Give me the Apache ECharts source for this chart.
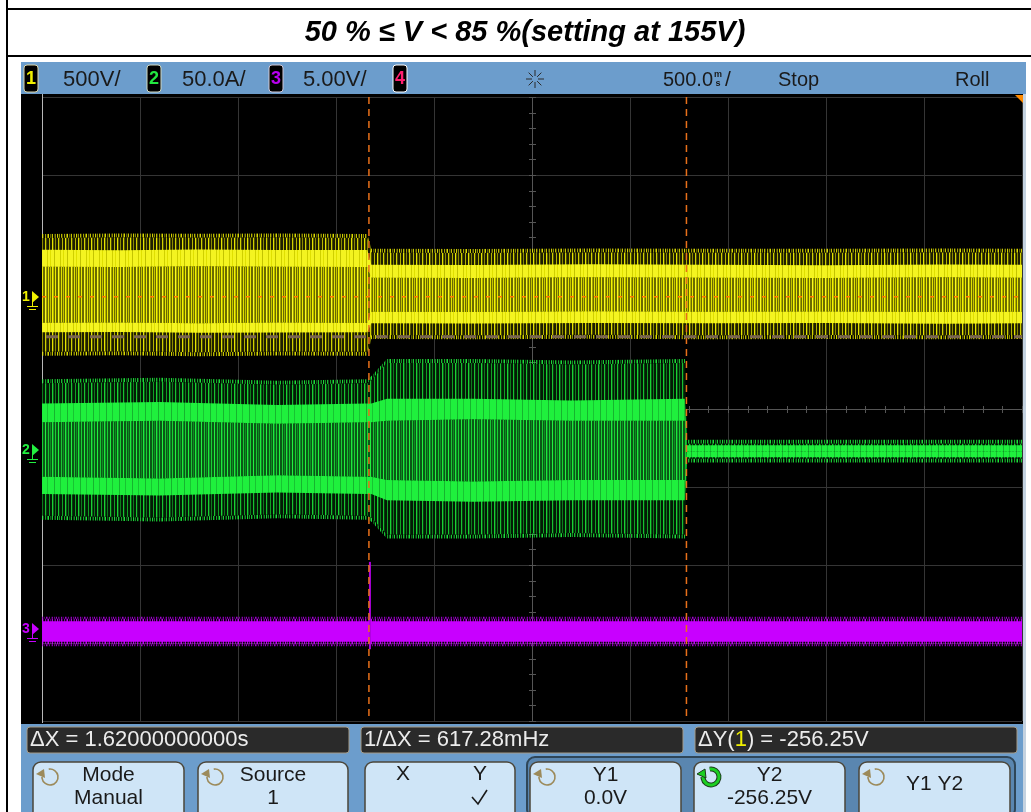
<!DOCTYPE html>
<html>
<head>
<meta charset="utf-8">
<title>Scope capture</title>
<script src="https://cdn.jsdelivr.net/npm/echarts@6/dist/echarts.min.js"></script>
<style>
  html, body { margin: 0; padding: 0; background: #fff; }
  #scope { width: 1031px; height: 812px; }
</style>
</head>
<body>
<div id="scope"></div>
<script>
// ---------------- Acquisition data ----------------
// Roll mode, 500 ms/div across 10 divisions
const timeRange = [0, 5];
const timeStep = 0.5;
const divRange = [-4, 4];

// Channel settings: units per division and ground reference (divisions from centre)
const ch1Scale = 500, ch1Ground = 1.44;   // volts
const ch2Scale = 50,  ch2Ground = -0.53;  // amps
const ch3Scale = 5,   ch3Ground = -2.82;  // volts

// Channel 1 (V): envelope of the mains voltage
const ch1Time    = [0.00, 0.40, 0.80, 1.20, 1.66, 1.68, 2.20, 2.80, 3.40, 4.00, 4.60, 5.00];
const ch1PeakHi  = [376, 380, 377, 379, 376, 282, 280, 284, 282, 281, 283, 281];
const ch1HiTop   = [301, 298, 303, 300, 299, 205, 203, 208, 205, 202, 206, 204];
const ch1HiBot   = [192, 190, 195, 192, 190, 122, 120, 125, 122, 120, 124, 122];
const ch1LoTop   = [-167, -165, -170, -166, -168, -96, -98, -94, -97, -95, -99, -96];
const ch1LoBot   = [-228, -226, -232, -229, -228, -170, -172, -168, -171, -169, -173, -170];
const ch1PeakLo  = [-353, -350, -356, -352, -353, -246, -248, -244, -247, -245, -248, -246];

// Channel 2 (A): current envelope, drops out at the second time cursor
const ch2Time    = [0.00, 0.60, 1.20, 1.66, 1.68, 1.76, 2.20, 2.70, 3.28, 3.29, 4.00, 5.00];
const ch2PeakHi  = [43, 44, 42, 43, 45, 56, 56, 55, 56, 4.2, 4.2, 4.2];
const ch2HiTop   = [30, 31, 29, 30, 30, 33, 33, 32, 33, 3.2, 3.2, 3.2];
const ch2HiBot   = [18, 19, 17, 18, 18, 19, 20, 19, 19, -0.6, -0.6, -0.6];
const ch2LoTop   = [-17, -18, -16, -17, -17, -19, -20, -19, -19, -0.6, -0.6, -0.6];
const ch2LoBot   = [-28, -29, -27, -28, -28, -32, -33, -32, -32, -4.5, -4.5, -4.5];
const ch2PeakLo  = [-42, -43, -41, -42, -43, -54, -54, -53, -54, -5.2, -5.2, -5.2];

// Channel 3 (V): control signal, flat with a single spike at the switching instant
const ch3Time    = [0.00, 5.00];
const ch3PeakHi  = [0.66, 0.66];
const ch3BandTop = [0.50, 0.50];
const ch3BandBot = [-0.82, -0.82];
const ch3PeakLo  = [-0.98, -0.98];
const ch3Spike   = [1.668, 4.30, -1.30];   // time, high, low

// Cursors: X in seconds, Y on channel 1 in volts
const cursorX = [1.668, 3.288];
const cursorY = [0, -256.25];

// Front panel settings text
const channelLabels = ['500V/', '50.0A/', '5.00V/'];
const timebaseLabel = '500.0';
const runState = 'Stop';
const modeLabel = 'Roll';

// ---------------- Rendering helpers ----------------
const SCOPE_FONT = '"Liberation Sans", Arial, sans-serif';

function stripes(width, bg, marks) {
  const c = document.createElement('canvas');
  c.width = width; c.height = 4;
  const g = c.getContext('2d');
  if (bg) { g.fillStyle = bg; g.fillRect(0, 0, width, 4); }
  marks.forEach(([x, w, col]) => { g.fillStyle = col; g.fillRect(x, 0, w, 4); });
  return { image: c, repeat: 'repeat' };
}
function fringe(rgb, alphas) {
  return stripes(alphas.length, null, alphas.map((a, i) => [i, 1, `rgba(${rgb},${a})`]));
}
const FRINGE_ALPHA = [0.9, 0.15, 0.6, 0, 0.8, 0.3, 0, 0.7, 0.1, 0.5, 0.95, 0, 0.4, 0.2, 0.85, 0, 0.3, 0.6, 0];

const yellowStyle = {
  outer: stripes(13, '#1e1e00', [[0, 1, '#e4e400'], [1, 1, '#5a5a00'], [3, 1, '#8a8a00'], [6, 1, '#d0d000'], [7, 1, '#505000'], [10, 1, '#b4b400']]),
  mid: stripes(13, '#6a6a00', [[0, 1, '#f4f400'], [1, 1, '#b0b000'], [3, 1, '#ecec00'], [6, 1, '#fcfc20'], [7, 1, '#a4a400'], [9, 1, '#e4e400'], [11, 1, '#c4c400']]),
  bright: stripes(13, '#f4f420', [[2, 1, '#c4c400'], [8, 1, '#d0d000'], [11, 1, '#e0e000']]),
  fringe: fringe('230,230,0', FRINGE_ALPHA)
};
const greenStyle = {
  outer: stripes(13, '#031a06', [[0, 1, '#1ad034'], [1, 1, '#0a5a16'], [3, 1, '#0c7a1c'], [6, 1, '#18c030'], [7, 1, '#063c0e'], [10, 1, '#10a024']]),
  mid: stripes(13, '#0a5816', [[0, 1, '#1ee83a'], [1, 1, '#10882a'], [3, 1, '#18d034'], [6, 1, '#22f040'], [9, 1, '#18c832'], [11, 1, '#0f8a24']]),
  bright: stripes(13, '#1ff03d', [[2, 1, '#16b42e'], [8, 1, '#18c432']]),
  fringe: fringe('30,235,60', FRINGE_ALPHA)
};
const magentaStyle = {
  outer: fringe('200,0,255', FRINGE_ALPHA),
  mid: { color: '#c800ff' },
  bright: { color: '#c800ff' },
  fringe: fringe('170,0,220', FRINGE_ALPHA.slice().reverse())
};

function envelopeSeries(name, env, scale, ground, look, fringeSize) {
  return {
    type: 'custom',
    name,
    coordinateSystem: 'cartesian2d',
    clip: true,
    silent: true,
    z: 3,
    data: [[env.t[0], ground]],
    renderItem(params, api) {
      const pt = (t, v) => api.coord([t, ground + v / scale]);
      const band = (hi, lo, dyHi = 0, dyLo = 0) => {
        const pts = env.t.map((t, i) => { const p = pt(t, hi[i]); return [p[0], p[1] + dyHi]; });
        for (let i = env.t.length - 1; i >= 0; i--) {
          const p = pt(env.t[i], lo[i]);
          pts.push([p[0], p[1] + dyLo]);
        }
        return pts;
      };
      const fillOf = s => (s.image ? s : s.color);
      const poly = (points, s) => ({ type: 'polygon', shape: { points }, style: { fill: fillOf(s) } });
      return {
        type: 'group',
        children: [
          poly(band(env.peakHi, env.peakHi, -fringeSize, 0), look.fringe),
          poly(band(env.peakLo, env.peakLo, 0, fringeSize), look.fringe),
          poly(band(env.peakHi, env.peakLo), look.outer),
          poly(band(env.hiBot, env.loTop), look.mid),
          poly(band(env.hiTop, env.hiBot), look.bright),
          poly(band(env.loTop, env.loBot), look.bright)
        ]
      };
    }
  };
}

// ---------------- Chart ----------------
const chart = echarts.init(document.getElementById('scope'), null, { renderer: 'canvas', width: 1031, height: 812 });

const GRID_COLOR = '#353535';

const option = {
  backgroundColor: '#ffffff',
  animation: false,
  grid: { left: 42, top: 97, width: 980, height: 624, show: false },
  xAxis: {
    type: 'value', min: timeRange[0], max: timeRange[1], interval: timeStep,
    axisLine: { show: false }, axisTick: { show: false }, axisLabel: { show: false },
    splitLine: { show: true, lineStyle: { color: GRID_COLOR, width: 1 } }
  },
  yAxis: {
    type: 'value', min: divRange[0], max: divRange[1], interval: 1,
    axisLine: { show: false }, axisTick: { show: false }, axisLabel: { show: false },
    splitLine: { show: true, lineStyle: { color: GRID_COLOR, width: 1 } }
  },
  series: [
    // Centre graticule with minor ticks and the screen's left edge
    {
      type: 'custom', name: 'graticule', coordinateSystem: 'cartesian2d', silent: true, z: 1,
      data: [[0, 0]],
      renderItem(params, api) {
        const children = [];
        const stroke = { stroke: '#555555', lineWidth: 1 };
        const l = api.coord([timeRange[0], 0]), r = api.coord([timeRange[1], 0]);
        const midT = (timeRange[0] + timeRange[1]) / 2;
        const t = api.coord([midT, divRange[1]]), b = api.coord([midT, divRange[0]]);
        children.push({ type: 'line', shape: { x1: l[0], y1: l[1] + 0.5, x2: r[0], y2: r[1] + 0.5 }, style: stroke });
        children.push({ type: 'line', shape: { x1: t[0] + 0.5, y1: t[1], x2: b[0] + 0.5, y2: b[1] }, style: stroke });
        for (let s = timeRange[0]; s <= timeRange[1] + 1e-9; s += timeStep / 5) {
          const p = api.coord([s, 0]);
          children.push({ type: 'line', shape: { x1: Math.round(p[0]) + 0.5, y1: p[1] - 3, x2: Math.round(p[0]) + 0.5, y2: p[1] + 4 }, style: stroke });
        }
        for (let d = divRange[0]; d <= divRange[1] + 1e-9; d += 0.2) {
          const p = api.coord([midT, d]);
          children.push({ type: 'line', shape: { x1: p[0] - 3, y1: Math.round(p[1]) + 0.5, x2: p[0] + 4, y2: Math.round(p[1]) + 0.5 }, style: stroke });
        }
        const e0 = api.coord([timeRange[0], divRange[1]]), e1 = api.coord([timeRange[0], divRange[0]]);
        children.push({ type: 'line', shape: { x1: e0[0] + 0.5, y1: e0[1] - 3, x2: e1[0] + 0.5, y2: e1[1] + 2 }, style: { stroke: '#b8b8b8', lineWidth: 1 } });
        return { type: 'group', children };
      }
    },
    envelopeSeries('ch3', { t: ch3Time, peakHi: ch3PeakHi, hiTop: ch3BandTop, hiBot: ch3BandTop, loTop: ch3BandBot, loBot: ch3BandBot, peakLo: ch3PeakLo }, ch3Scale, ch3Ground, magentaStyle, 2),
    {
      type: 'custom', name: 'ch3 spike', coordinateSystem: 'cartesian2d', silent: true, z: 4,
      data: [ch3Spike],
      renderItem(params, api) {
        const hi = api.coord([api.value(0), ch3Ground + api.value(1) / ch3Scale]);
        const lo = api.coord([api.value(0), ch3Ground + api.value(2) / ch3Scale]);
        return { type: 'line', shape: { x1: hi[0] + 1, y1: hi[1], x2: lo[0] + 1, y2: lo[1] }, style: { stroke: '#b000e0', lineWidth: 2 } };
      }
    },
    envelopeSeries('ch2', { t: ch2Time, peakHi: ch2PeakHi, hiTop: ch2HiTop, hiBot: ch2HiBot, loTop: ch2LoTop, loBot: ch2LoBot, peakLo: ch2PeakLo }, ch2Scale, ch2Ground, greenStyle, 4),
    envelopeSeries('ch1', { t: ch1Time, peakHi: ch1PeakHi, hiTop: ch1HiTop, hiBot: ch1HiBot, loTop: ch1LoTop, loBot: ch1LoBot, peakLo: ch1PeakLo }, ch1Scale, ch1Ground, yellowStyle, 4),
    // Cursors
    {
      type: 'custom', name: 'cursors', coordinateSystem: 'cartesian2d', silent: true, z: 6,
      data: [[0, 0]],
      renderItem(params, api) {
        const children = [];
        cursorX.forEach(x => {
          const a = api.coord([x, divRange[1]]), b = api.coord([x, divRange[0]]);
          children.push({ type: 'line', shape: { x1: a[0], y1: a[1], x2: b[0], y2: b[1] }, style: { stroke: '#e8701a', lineWidth: 1.5, lineDash: [7, 5] } });
        });
        const y1 = api.coord([timeRange[0], ch1Ground + cursorY[0] / ch1Scale]);
        const y1r = api.coord([timeRange[1], ch1Ground + cursorY[0] / ch1Scale]);
        children.push({ type: 'line', shape: { x1: y1[0], y1: y1[1], x2: y1r[0], y2: y1r[1] }, style: { stroke: '#ff7a00', lineWidth: 1.5, lineDash: [4, 8] } });
        const y2 = api.coord([timeRange[0], ch1Ground + cursorY[1] / ch1Scale]);
        const y2r = api.coord([timeRange[1], ch1Ground + cursorY[1] / ch1Scale]);
        children.push({ type: 'line', shape: { x1: y2[0] + 4, y1: y2[1], x2: y2r[0], y2: y2r[1] }, style: { stroke: '#7a6550', lineWidth: 3, lineDash: [12, 10] } });
        return { type: 'group', children };
      }
    },
    // Channel ground markers at the left edge
    {
      type: 'custom', name: 'markers', coordinateSystem: 'cartesian2d', silent: true, z: 7, clip: false,
      data: [[1, ch1Ground], [2, ch2Ground], [3, ch3Ground]],
      renderItem(params, api) {
        const colors = ['#f0f000', '#22f040', '#c800ff'];
        const col = colors[params.dataIndex];
        const p = api.coord([timeRange[0], api.value(1)]);
        const x = p[0], y = Math.round(p[1]);
        return {
          type: 'group',
          children: [
            { type: 'text', style: { text: String(api.value(0)), x: x - 16, y: y, fill: col, font: 'bold 14px ' + SCOPE_FONT, align: 'center', verticalAlign: 'middle', textAlign: 'center', textVerticalAlign: 'middle' } },
            { type: 'polygon', shape: { points: [[x - 10, y - 6], [x - 3, y], [x - 10, y + 6]] }, style: { fill: col } },
            { type: 'line', shape: { x1: x - 9.5, y1: y, x2: x - 9.5, y2: y + 9 }, style: { stroke: col, lineWidth: 1 } },
            { type: 'line', shape: { x1: x - 15, y1: y + 9.5, x2: x - 4, y2: y + 9.5 }, style: { stroke: col, lineWidth: 1 } },
            { type: 'line', shape: { x1: x - 13, y1: y + 12.5, x2: x - 6, y2: y + 12.5 }, style: { stroke: col, lineWidth: 1 } }
          ]
        };
      }
    }
  ]
};

// ---------------- Front panel (header bar, readouts, softkeys) ----------------
const dX = cursorX[1] - cursorX[0];
const dY = cursorY[1] - cursorY[0];
const fmtY = v => (v === 0 ? '0.0' : v.toFixed(2)) + 'V';

function txt(text, x, y, opts = {}) {
  return {
    type: 'text', z: 20, silent: true,
    style: Object.assign({
      text, x, y, fill: '#1a1a1a', font: `${opts.size || 21}px ${SCOPE_FONT}`,
      align: opts.align || 'left', verticalAlign: 'middle',
      textAlign: opts.align || 'left', textVerticalAlign: 'middle'
    }, opts.style || {})
  };
}
function rect(x, y, w, h, style, r = 0, z = 10) {
  return { type: 'rect', z, silent: true, shape: { x, y, width: w, height: h, r }, style };
}
function line(x1, y1, x2, y2, stroke, lineWidth = 1, z = 10) {
  return { type: 'line', z, silent: true, shape: { x1, y1, x2, y2 }, style: { stroke, lineWidth } };
}
function knobIcon(cx, cy, color, bold) {
  const els = [];
  const arc = { cx, cy, r: 8, startAngle: -Math.PI * 0.55, endAngle: Math.PI * 1.0, clockwise: true };
  if (bold) {
    els.push({ type: 'arc', z: 21, silent: true, shape: arc, style: { stroke: '#1d3a1d', lineWidth: 5, fill: null } });
  }
  els.push({ type: 'arc', z: 22, silent: true, shape: arc, style: { stroke: color, lineWidth: bold ? 3 : 1.6, fill: null } });
  const ax = cx - 8, ay = cy - 1;
  els.push({ type: 'polygon', z: 22, silent: true, shape: { points: [[ax - 6, ay - 2], [ax + 2, ay - 7], [ax + 3, ay + 2]] }, style: { fill: color, stroke: bold ? '#1d3a1d' : null, lineWidth: 1 } });
  return els;
}
function softkey(x, y, w, lines, icon) {
  const els = [rect(x, y, w, 60, { fill: '#cfe5f7', stroke: '#4b463a', lineWidth: 1.5 }, 8, 12)];
  const cx = x + w / 2;
  if (lines.length === 1) {
    els.push(txt(lines[0], cx, 784, { align: 'center', size: 21 }));
  } else {
    els.push(txt(lines[0], cx, 775, { align: 'center', size: 21 }));
    els.push(txt(lines[1], cx, 798, { align: 'center', size: 21 }));
  }
  if (icon) els.push(...knobIcon(x + 17, 777, icon.color, icon.bold));
  return els;
}

const panel = [];
// page frame
panel.push(line(7, 0, 7, 812, '#000', 2, 30));
panel.push(line(6, 9, 1031, 9, '#000', 2, 30));
panel.push(line(6, 56, 1031, 56, '#000', 2, 30));
// screen
panel.push(rect(21, 94, 1002, 631, { fill: '#000' }, 0, -10));
panel.push(rect(21, 62, 1005, 32, { fill: '#6c9dcc' }, 0, 10));
panel.push(rect(1023, 94, 3, 718, { fill: '#c4d2e0' }, 0, 10));
panel.push(rect(21, 724, 1002, 88, { fill: '#6c9dcc' }, 0, 10));
panel.push({ type: 'polygon', z: 15, silent: true, shape: { points: [[1015, 95], [1023, 95], [1023, 103]] }, style: { fill: '#ff8a00' } });

// title
panel.push(txt('50 % ≤ V < 85 %(setting at 155V)', 525, 33, { align: 'center', style: { fill: '#000', font: `italic bold 29px ${SCOPE_FONT}` } }));

// channel badges
const badges = [[24, '1', '#f0f000', '#ddd6a8'], [147, '2', '#22e840', '#d0d8c0'], [269, '3', '#b800f0', '#d0c8d8'], [393, '4', '#ff2070', '#ffffff']];
badges.forEach(([bx, n, col, edge]) => {
  panel.push(rect(bx, 65, 14, 27, { fill: '#000', stroke: edge, lineWidth: 1 }, 3, 14));
  panel.push(txt(n, bx + 7, 79, { align: 'center', style: { fill: col, font: `bold 18px ${SCOPE_FONT}` } }));
});
panel.push(txt(channelLabels[0], 63, 80, { size: 22 }));
panel.push(txt(channelLabels[1], 182, 80, { size: 22 }));
panel.push(txt(channelLabels[2], 303, 80, { size: 22 }));
// acquisition sparkle
for (let k = 0; k < 8; k++) {
  const a = k * Math.PI / 4;
  panel.push(line(535 + 3 * Math.cos(a), 79 + 3 * Math.sin(a), 535 + 9 * Math.cos(a), 79 + 9 * Math.sin(a), '#2a2a2a', 1, 15));
}
panel.push(txt(timebaseLabel, 663, 80, { size: 20 }));
panel.push(txt('m', 718, 75, { align: 'center', style: { font: `bold 9px ${SCOPE_FONT}` } }));
panel.push(txt('s', 718, 84, { align: 'center', style: { font: `bold 9px ${SCOPE_FONT}` } }));
panel.push(txt('/', 725, 80));
panel.push(txt(runState, 778, 80, { size: 20 }));
panel.push(txt(modeLabel, 955, 80, { size: 20 }));

// measurement readouts
const boxStyle = { fill: '#2a2a2a', stroke: '#a39a88', lineWidth: 1 };
panel.push(rect(27, 727, 322, 26, boxStyle, 3, 12));
panel.push(rect(361, 727, 322, 26, boxStyle, 3, 12));
panel.push(rect(695, 727, 322, 26, boxStyle, 3, 12));
const white = { fill: '#ececec' };
panel.push(txt('ΔX = ' + dX.toFixed(11) + 's', 30, 740, { size: 22, style: white }));
panel.push(txt('1/ΔX = ' + (1000 / dX).toFixed(2) + 'mHz', 364, 740, { size: 22, style: white }));
panel.push({
  type: 'text', z: 20, silent: true,
  style: {
    text: '{w|ΔY(}{y|1}{w|) = ' + fmtY(dY) + '}', x: 698, y: 740,
    font: `22px ${SCOPE_FONT}`, verticalAlign: 'middle', textVerticalAlign: 'middle',
    rich: { w: { fill: '#ececec', color: '#ececec', fontSize: 22, fontFamily: SCOPE_FONT }, y: { fill: '#f0f000', color: '#f0f000', fontSize: 22, fontFamily: SCOPE_FONT } }
  }
});

// softkeys
const tan = '#9c8a5a';
panel.push(...softkey(33, 762, 151, ['Mode', 'Manual'], { color: tan }));
panel.push(...softkey(198, 762, 150, ['Source', '1'], { color: tan }));
panel.push(rect(365, 762, 150, 60, { fill: '#cfe5f7', stroke: '#4b463a', lineWidth: 1.5 }, 8, 12));
panel.push(txt('X', 403, 774, { align: 'center' }));
panel.push(txt('Y', 480, 774, { align: 'center' }));
panel.push({ type: 'polyline', z: 20, silent: true, shape: { points: [[472, 797], [478, 804], [487, 790]] }, style: { stroke: '#1a1a1a', lineWidth: 1.6, fill: null } });
panel.push(rect(527, 757, 488, 60, { fill: '#5a86b0', stroke: '#2f4658', lineWidth: 2 }, 8, 11));
panel.push(...softkey(530, 762, 151, ['Y1', fmtY(cursorY[0])], { color: tan }));
panel.push(...softkey(694, 762, 151, ['Y2', fmtY(cursorY[1])], { color: '#1ccf22', bold: true }));
panel.push(...softkey(859, 762, 151, ['Y1 Y2'], { color: tan }));

option.graphic = { elements: panel };

chart.setOption(option);
</script>
</body>
</html>
